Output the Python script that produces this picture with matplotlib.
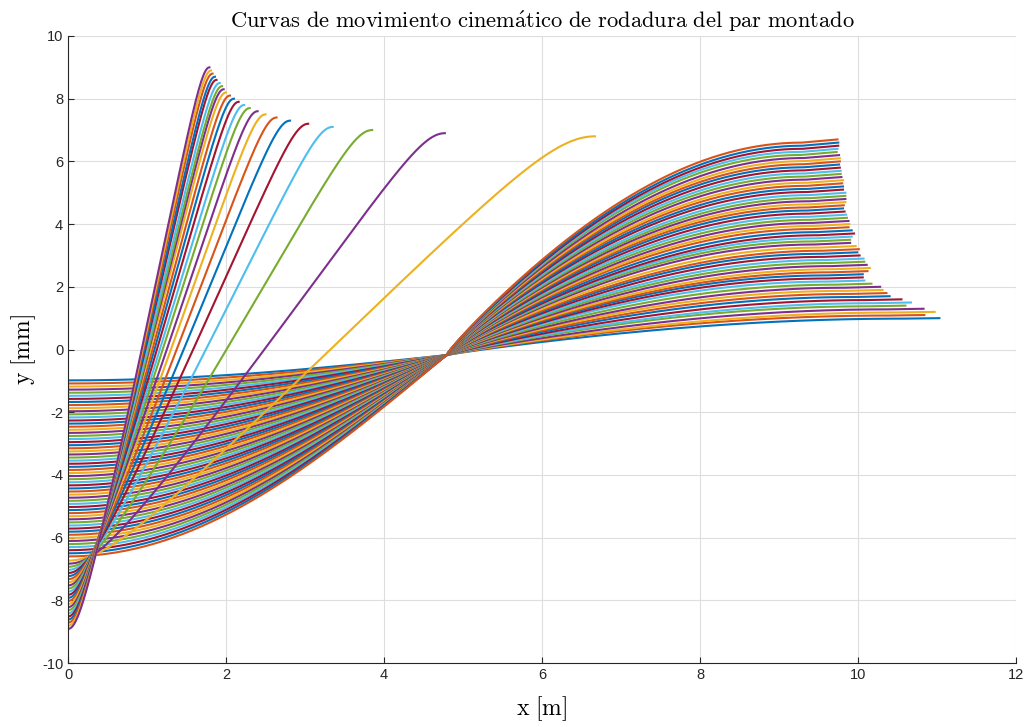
import numpy as np
import matplotlib.pyplot as plt

plt.rcParams['mathtext.fontset'] = 'cm'
plt.rcParams['font.family'] = ['Liberation Sans', 'DejaVu Sans']
plt.rcParams['axes.unicode_minus'] = False

# initial lateral offset of each run [mm], 1.0 ... 9.0
amplitudes = np.round(np.arange(1.0, 9.05, 0.1), 1)

# distance [m] where each run ends, tread contact (1.0 - 6.7 mm)
end_x_tread = [11.03, 10.84, 10.97, 10.83, 10.60, 10.67, 10.55, 10.40, 10.36, 10.31,
               10.28, 10.17, 10.08, 10.06, 10.06, 10.12, 10.15, 10.11, 10.08, 10.07,
               10.02, 9.99, 10.01, 9.97, 9.90, 9.90, 9.92, 9.95, 9.92, 9.88,
               9.89, 9.88, 9.86, 9.85, 9.83, 9.81, 9.82, 9.84, 9.84, 9.84,
               9.84, 9.81, 9.81, 9.80, 9.81, 9.79, 9.78, 9.78, 9.77, 9.76,
               9.77, 9.77, 9.76, 9.73, 9.74, 9.75, 9.75, 9.74]
# flange contact runs (6.8 - 9.0 mm)
end_x_flange = [6.67, 4.77, 3.85, 3.35, 3.04, 2.81, 2.64, 2.50, 2.40, 2.30,
                2.23, 2.16, 2.10, 2.05, 2.00, 1.97, 1.95, 1.92, 1.88, 1.86,
                1.83, 1.81, 1.79]
end_x = end_x_tread + end_x_flange
# shape of the flange runs: (sharpness, warp)
flange_shape = [(0.95, 1.0)] + [(0.97, 1.07)] * 22

# common crossing point of the tread runs
x_cross, y_cross = 4.79, -0.18

colors = ['#0072BD', '#D95319', '#EDB120', '#7E2F8E', '#77AC30', '#4DBEEE', '#A2142F']


def tread_path(a, xe):
    y0, yk, xk = -0.985 * a, 0.985 * a, xe - 0.45
    x1 = np.linspace(0, x_cross, 80)
    y1 = y_cross + (y0 - y_cross) * np.cos(np.pi * x1 / (2 * x_cross))
    x2 = np.linspace(x_cross, xk, 80)
    t = np.sin(np.pi * (x2 - x_cross) / (2 * (xk - x_cross)))
    y2 = y_cross + (yk - y_cross) * t ** 0.9
    return np.r_[x1, x2[1:], xe], np.r_[y1, y2[1:], a]


def flange_path(a, xe, s, k):
    x = np.linspace(0, xe, 300)
    u = np.pi * (x / xe) ** k - np.pi / 2
    h = np.arcsin(s * np.sin(u)) / np.arcsin(s)
    lo, hi = -0.99 * a, a
    return x, lo + (hi - lo) * (h + 1) / 2


fig = plt.figure(figsize=(10.32, 7.27), dpi=100)
ax = fig.add_axes([0.0659, 0.088, 0.9186, 0.8625])

n_tread = len(end_x_tread)
for i, (a, xe) in enumerate(zip(amplitudes, end_x)):
    if i < n_tread:
        x, y = tread_path(a, xe)
    else:
        x, y = flange_path(a, xe, *flange_shape[i - n_tread])
    ax.plot(x, y, color=colors[i % 7], lw=1.5)

ax.set_xlim(0, 12)
ax.set_ylim(-10, 10)
ax.set_xticks(range(0, 13, 2))
ax.set_yticks(range(-10, 11, 2))
ax.grid(True, color='#dedede', lw=0.8)
ax.set_axisbelow(True)
for side in ['top', 'right']:
    ax.spines[side].set_visible(False)
for side in ['left', 'bottom']:
    ax.spines[side].set_color('#262626')
    ax.spines[side].set_linewidth(0.8)
ax.tick_params(direction='in', length=4, width=0.8, colors='#262626', labelsize=10.5)

ax.set_title(r'$\mathrm{Curvas\ de\ movimiento\ cinem\acute{a}tico\ de\ rodadura\ del\ par\ montado}$',
             fontsize=16.2, pad=6)
ax.set_xlabel(r'$\mathrm{x\ [m]}$', fontsize=17, labelpad=9)
ax.set_ylabel(r'$\mathrm{y\ [mm]}$', fontsize=17, labelpad=3)

fig.savefig('out.png', dpi=100)
